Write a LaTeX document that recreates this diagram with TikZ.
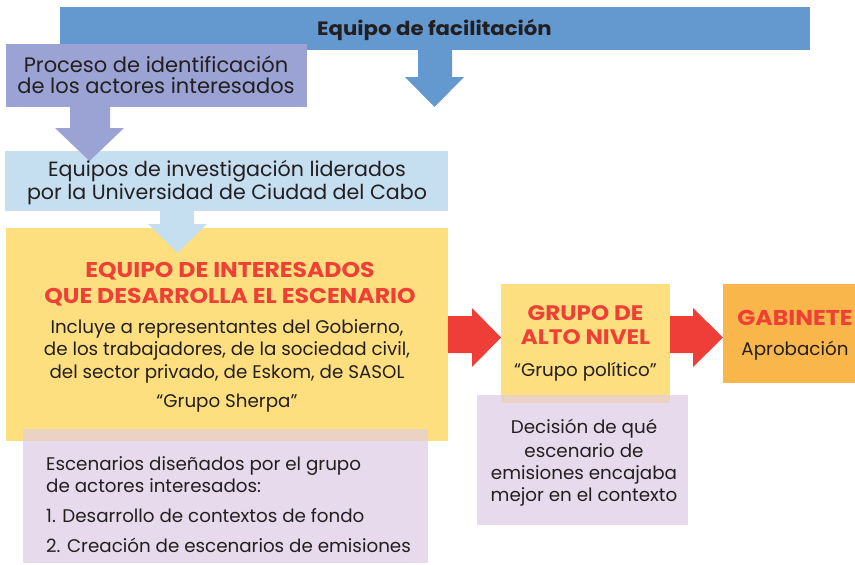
\documentclass[tikz,border=0pt]{standalone}
\usepackage{fontspec}
\setmainfont{Poppins}
\newfontfamily\bfam[FakeStretch=1.1]{Poppins}
\definecolor{facil}{HTML}{6399CF}
\definecolor{proc}{HTML}{9AA3D4}
\definecolor{lblue}{HTML}{C5DEF0}
\definecolor{yel}{HTML}{FDDF80}
\definecolor{lav}{HTML}{E6DAEC}
\definecolor{ovl}{HTML}{EAD2C4}
\definecolor{redarr}{HTML}{EE3E37}
\definecolor{orng}{HTML}{F9B64A}
\definecolor{redtxt}{HTML}{EE4036}
\definecolor{ink}{HTML}{231F20}
\begin{document}
\begin{tikzpicture}[x=1pt,y=-1pt,
  box/.style={draw=none,inner sep=0,outer sep=0,anchor=north west},
  txt/.style={anchor=base,inner sep=0,text=ink},
  txtl/.style={anchor=base west,inner sep=0,text=ink},
  ttl/.style={anchor=base,inner sep=0,text=redtxt,font=\fontsize{21.4}{25}\bfam\bfseries},
  body/.style={font=\fontsize{18.3}{22}\selectfont}]
\useasboundingbox (0,0) rectangle (855,565);
% boxes
\node[box,fill=facil,minimum width=750pt,minimum height=43pt] (fac) at (60,7) {};
\node[box,fill=proc,minimum width=301pt,minimum height=63pt] (proc) at (6,44) {};
\node[box,fill=lblue,minimum width=443pt,minimum height=60pt] (inv) at (5,151) {};
\node[box,fill=yel,minimum width=442pt,minimum height=213pt] (eq) at (6,228) {};
\node[box,fill=lav,minimum width=405pt,minimum height=134pt] (esc) at (23,429) {};
\node[box,fill=ovl,minimum width=405pt,minimum height=12pt] (escov) at (23,429) {};
\node[box,fill=yel,minimum width=169pt,minimum height=119pt] (gan) at (501,284) {};
\node[box,fill=lav,minimum width=211pt,minimum height=130pt] (dec) at (477,395) {};
\node[box,fill=ovl,minimum width=169pt,minimum height=8pt] (decov) at (501,395) {};
\node[box,fill=orng,minimum width=140pt,minimum height=99pt] (gab) at (723,284) {};
% block arrows
\fill[facil] (418,50)--(452,50)--(452,77)--(464,77)--(434.5,107)--(405,77)--(418,77)--cycle;
\fill[proc] (70,107)--(110,107)--(110,128)--(124,128)--(89.5,161)--(55,128)--(70,128)--cycle;
\fill[lblue] (160,211)--(194,211)--(194,224)--(207,224)--(177.5,253)--(148,224)--(160,224)--cycle;
\fill[redarr] (448,316)--(472,316)--(472,308)--(501,337.5)--(472,367)--(472,353)--(448,353)--cycle;
\fill[redarr] (670,316)--(693,316)--(693,308)--(723,337.5)--(693,367)--(693,353)--(670,353)--cycle;
% texts
\node[txt,font=\fontsize{19.3}{23}\bfam\bfseries] (tfac) at (434.5,35) {Equipo de facilitación};
\node[txt,font=\fontsize{21}{25}\selectfont] (tp1) at (156,72) {Proceso de identificación};
\node[txt,font=\fontsize{21}{25}\selectfont] (tp2) at (156,93) {de los actores interesados};
\node[txt,font=\fontsize{20.6}{24}\selectfont] (ti1) at (227,176) {Equipos de investigación liderados};
\node[txt,font=\fontsize{20.6}{24}\selectfont] (ti2) at (227,199) {por la Universidad de Ciudad del Cabo};
\node[ttl] (te1) at (230,277) {EQUIPO DE INTERESADOS};
\node[ttl] (te2) at (230,303) {QUE DESARROLLA EL ESCENARIO};
\node[txt,body] (tb1) at (227,333) {Incluye a representantes del Gobierno,};
\node[txt,body] (tb2) at (227,355) {de los trabajadores, de la sociedad civil,};
\node[txt,body] (tb3) at (227,378) {del sector privado, de Eskom, de SASOL};
\node[txt,body] (tb4) at (227,407) {“Grupo Sherpa”};
\node[txtl,body] (ts1) at (46,470) {Escenarios diseñados por el grupo};
\node[txtl,body] (ts2) at (46,492) {de actores interesados:};
\node[txtl,body] (ts3) at (46,522) {1. Desarrollo de contextos de fondo};
\node[txtl,body] (ts4) at (46,552) {2. Creación de escenarios de emisiones};
\node[ttl,font=\fontsize{21}{25}\bfam\bfseries] (tg1) at (585.5,320) {GRUPO DE};
\node[ttl,font=\fontsize{21}{25}\bfam\bfseries] (tg2) at (585.5,344) {ALTO NIVEL};
\node[txt,body] (tg3) at (585.5,376) {“Grupo político”};
\node[txt,body] (td1) at (584,433) {Decisión de qué};
\node[txt,body] (td2) at (584,457) {escenario de};
\node[txt,body] (td3) at (584,479) {emisiones encajaba};
\node[txt,body] (td4) at (584,501) {mejor en el contexto};
\node[ttl,font=\fontsize{21.5}{25}\bfam\bfseries] (tgb1) at (795,325) {GABINETE};
\node[txt,body] (tgb2) at (795,355) {Aprobación};
\end{tikzpicture}
\end{document}
